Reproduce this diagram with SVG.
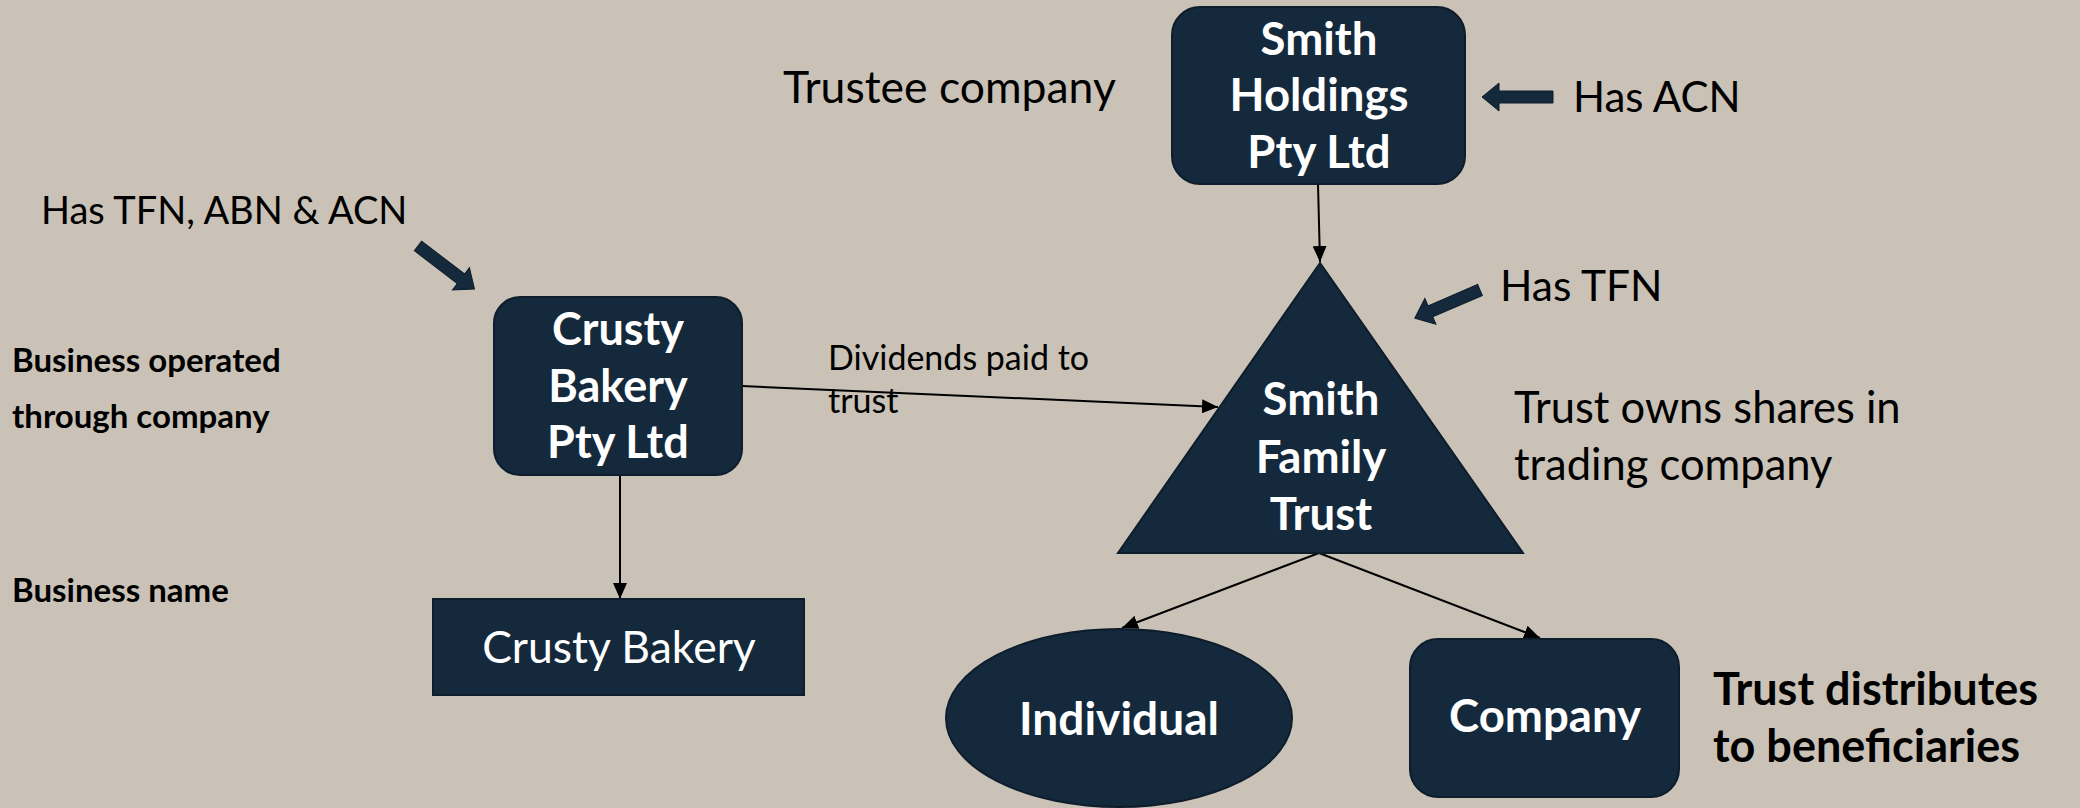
<svg xmlns="http://www.w3.org/2000/svg" width="2080" height="808" viewBox="0 0 2080 808">
<defs>
<style>
.node{fill:#14293c;stroke:#0e1d2b;stroke-width:2}
.nt{font-family:Lato,"Open Sans",sans-serif;font-weight:bold;fill:#ffffff;text-anchor:middle}
.lbl{font-family:Lato,"Open Sans",sans-serif;fill:#000000}
.blbl{font-family:Lato,"Open Sans",sans-serif;font-weight:bold;fill:#000000}
.conn{stroke:#000000;stroke-width:2;fill:none;marker-end:url(#ah)}
.barrow{fill:#14293c;stroke:#0e1d2b;stroke-width:1}
</style>
<marker id="ah" viewBox="0 0 16 14" refX="16" refY="7" markerWidth="16" markerHeight="14" orient="auto" markerUnits="userSpaceOnUse">
<path d="M0,0 L16,7 L0,14 z" fill="#000000"/>
</marker>
<path id="blk" d="M0,-6 L54,-6 L54,-14 L71,0 L54,14 L54,6 L0,6 z"/>
</defs>
<rect x="0" y="0" width="2080" height="808" fill="#cac2b7"/>

<g id="connectors">
<line class="conn" x1="1318" y1="184" x2="1320" y2="262"/>
<line class="conn" x1="742" y1="386" x2="1218" y2="407"/>
<line class="conn" x1="620" y1="475" x2="620" y2="599"/>
<line class="conn" x1="1319" y1="553" x2="1122" y2="628"/>
<line class="conn" x1="1319" y1="553" x2="1540" y2="638"/>
</g>

<g id="node-smith-holdings">
<rect class="node" x="1172" y="7" width="293" height="177" rx="28"/>
<text class="nt" font-size="45.5" x="1319" y="55">Smith</text>
<text class="nt" font-size="45.5" x="1319" y="111">Holdings</text>
<text class="nt" font-size="45.5" x="1319" y="168">Pty Ltd</text>
</g>

<g id="node-crusty-bakery-pty-ltd">
<rect class="node" x="494" y="297" width="248" height="178" rx="26"/>
<text class="nt" font-size="45" x="618" y="345">Crusty</text>
<text class="nt" font-size="45" x="618" y="402">Bakery</text>
<text class="nt" font-size="45" x="618" y="458">Pty Ltd</text>
</g>

<g id="node-smith-family-trust">
<polygon class="node" points="1320,263 1118,553 1523,553"/>
<text class="nt" font-size="45.5" x="1321" y="415">Smith</text>
<text class="nt" font-size="45.5" x="1321" y="473">Family</text>
<text class="nt" font-size="45.5" x="1321" y="530">Trust</text>
</g>

<g id="node-crusty-bakery">
<rect class="node" x="433" y="599" width="371" height="96"/>
<text class="nt" font-size="44.5" style="font-weight:normal" x="619" y="663">Crusty Bakery</text>
</g>

<g id="node-individual">
<ellipse class="node" cx="1119" cy="718" rx="173" ry="89"/>
<text class="nt" font-size="46" x="1119" y="735">Individual</text>
</g>

<g id="node-company">
<rect class="node" x="1410" y="639" width="269" height="158" rx="28"/>
<text class="nt" font-size="45.5" x="1545" y="732">Company</text>
</g>

<g id="annotations">
<use href="#blk" class="barrow" transform="translate(418,246) rotate(37.3)"/>
<use href="#blk" class="barrow" transform="translate(1553,97) rotate(180)"/>
<use href="#blk" class="barrow" transform="translate(1480,290) rotate(156.7)"/>
<text class="lbl" font-size="44.5" x="783" y="103">Trustee company</text>
<text class="lbl" font-size="42" x="1573" y="112">Has ACN</text>
<text class="lbl" font-size="38" x="41" y="224">Has TFN, ABN &amp; ACN</text>
<text class="lbl" font-size="42.5" x="1500" y="301">Has TFN</text>
<text class="lbl" font-size="43.5" x="1514" y="423">Trust owns shares in</text>
<text class="lbl" font-size="43.5" x="1514" y="480">trading company</text>
<text class="lbl" font-size="34" x="828" y="370">Dividends paid to</text>
<text class="lbl" font-size="34" x="828" y="413">trust</text>
<text class="blbl" font-size="33" x="12" y="372">Business operated</text>
<text class="blbl" font-size="33" x="12" y="428">through company</text>
<text class="blbl" font-size="33" x="12" y="602">Business name</text>
<text class="blbl" font-size="45" x="1713" y="705">Trust distributes</text>
<text class="blbl" font-size="45" x="1713" y="762">to beneficiaries</text>
</g>
</svg>
